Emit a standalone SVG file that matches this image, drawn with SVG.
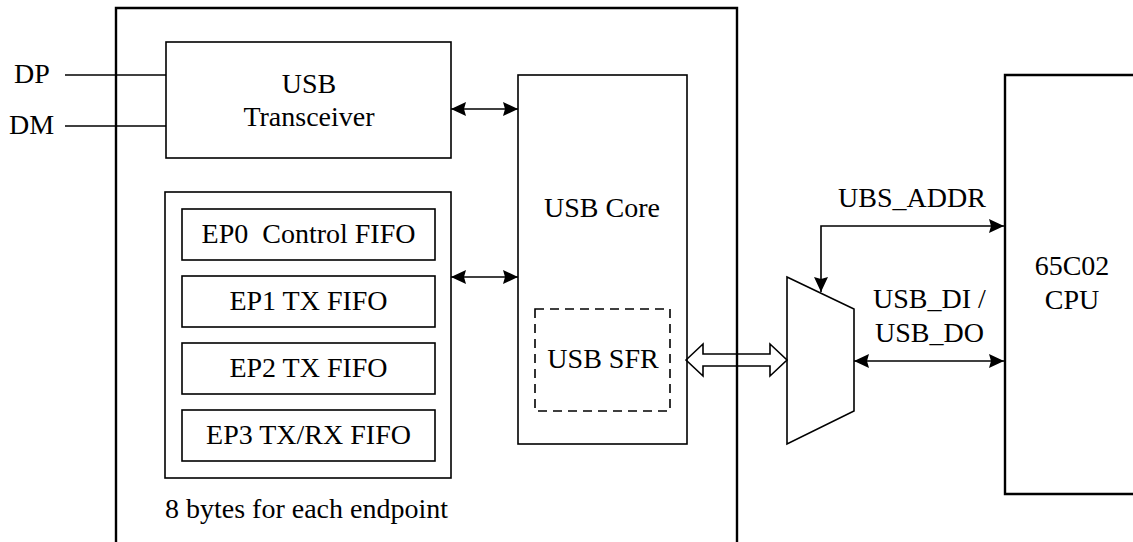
<svg xmlns="http://www.w3.org/2000/svg" width="1133" height="542" viewBox="0 0 1133 542">
<style>
.box{fill:none;stroke:#000;stroke-width:1.6}
.thick{fill:none;stroke:#000;stroke-width:2.4}
.ln{fill:none;stroke:#000;stroke-width:1.6}
</style>
<defs>
<marker id="ah" markerUnits="userSpaceOnUse" markerWidth="16" markerHeight="14" refX="15" refY="7" orient="auto-start-reverse">
<path d="M0,0 L15,7 L0,14 L2,7 z" fill="#000"/>
</marker>
</defs>
<g id="outer">
<path class="thick" d="M116,542 V8 H737 V542"/>
</g>
<g id="cpu">
<path class="thick" d="M1133,75 H1005 V494 H1133"/>
<text x="1072" y="275" text-anchor="middle" font-family="Liberation Serif" font-size="28" style="font-family:'Liberation Serif',serif">65C02</text>
<text x="1072" y="309" text-anchor="middle" font-family="Liberation Serif" font-size="28" style="font-family:'Liberation Serif',serif">CPU</text>
</g>
<g id="transceiver">
<rect class="box" x="166" y="42" width="285" height="116"/>
<text x="309" y="93" text-anchor="middle" font-family="Liberation Serif" font-size="28" style="font-family:'Liberation Serif',serif">USB</text>
<text x="309" y="126" text-anchor="middle" font-family="Liberation Serif" font-size="28" style="font-family:'Liberation Serif',serif">Transceiver</text>
</g>
<g id="fifo">
<rect class="box" x="165" y="192" width="286" height="286"/>
<rect class="box" x="182" y="209" width="253" height="51"/>
<text x="308.5" y="243" text-anchor="middle" font-family="Liberation Serif" font-size="28" style="font-family:'Liberation Serif',serif" xml:space="preserve">EP0  Control FIFO</text>
<rect class="box" x="182" y="276" width="253" height="51"/>
<text x="308.5" y="310" text-anchor="middle" font-family="Liberation Serif" font-size="28" style="font-family:'Liberation Serif',serif">EP1 TX FIFO</text>
<rect class="box" x="182" y="343" width="253" height="51"/>
<text x="308.5" y="377" text-anchor="middle" font-family="Liberation Serif" font-size="28" style="font-family:'Liberation Serif',serif">EP2 TX FIFO</text>
<rect class="box" x="182" y="410" width="253" height="51"/>
<text x="308.5" y="444" text-anchor="middle" font-family="Liberation Serif" font-size="28" style="font-family:'Liberation Serif',serif">EP3 TX/RX FIFO</text>
<text x="165" y="518" font-family="Liberation Serif" font-size="28" style="font-family:'Liberation Serif',serif">8 bytes for each endpoint</text>
</g>
<g id="usbcore">
<rect class="box" x="518" y="75" width="169" height="369"/>
<text x="602" y="217" text-anchor="middle" font-family="Liberation Serif" font-size="28" style="font-family:'Liberation Serif',serif">USB Core</text>
</g>
<g id="usbsfr">
<rect class="box" x="535" y="309" width="135" height="102" stroke-dasharray="9,6"/>
<text x="603" y="368" text-anchor="middle" font-family="Liberation Serif" font-size="28" style="font-family:'Liberation Serif',serif">USB SFR</text>
</g>
<g id="mux">
<path class="box" d="M787,277 L854,309 L854,411 L787,444 Z"/>
</g>
<g id="labels">
<text x="838" y="207" font-family="Liberation Serif" font-size="28" style="font-family:'Liberation Serif',serif">UBS_ADDR</text>
<text x="873" y="308" font-family="Liberation Serif" font-size="28" style="font-family:'Liberation Serif',serif">USB_DI /</text>
<text x="875" y="342" font-family="Liberation Serif" font-size="28" style="font-family:'Liberation Serif',serif">USB_DO</text>
<text x="14" y="83" font-family="Liberation Serif" font-size="28" style="font-family:'Liberation Serif',serif">DP</text>
<text x="9" y="134" font-family="Liberation Serif" font-size="28" style="font-family:'Liberation Serif',serif">DM</text>
</g>
<g id="connectors">
<line class="ln" x1="65" y1="75" x2="166" y2="75"/>
<line class="ln" x1="65" y1="126" x2="166" y2="126"/>
<line class="ln" x1="451" y1="109" x2="518" y2="109" marker-start="url(#ah)" marker-end="url(#ah)"/>
<line class="ln" x1="451" y1="277" x2="518" y2="277" marker-start="url(#ah)" marker-end="url(#ah)"/>
<path class="ln" d="M686,360 L703,344 L703,354 L770,354 L770,344 L787,360 L770,376 L770,366 L703,366 L703,376 Z"/>
<path class="ln" d="M821,292 V226 H1004" marker-start="url(#ah)" marker-end="url(#ah)"/>
<line class="ln" x1="854" y1="361" x2="1004" y2="361" marker-start="url(#ah)" marker-end="url(#ah)"/>
</g>
</svg>
